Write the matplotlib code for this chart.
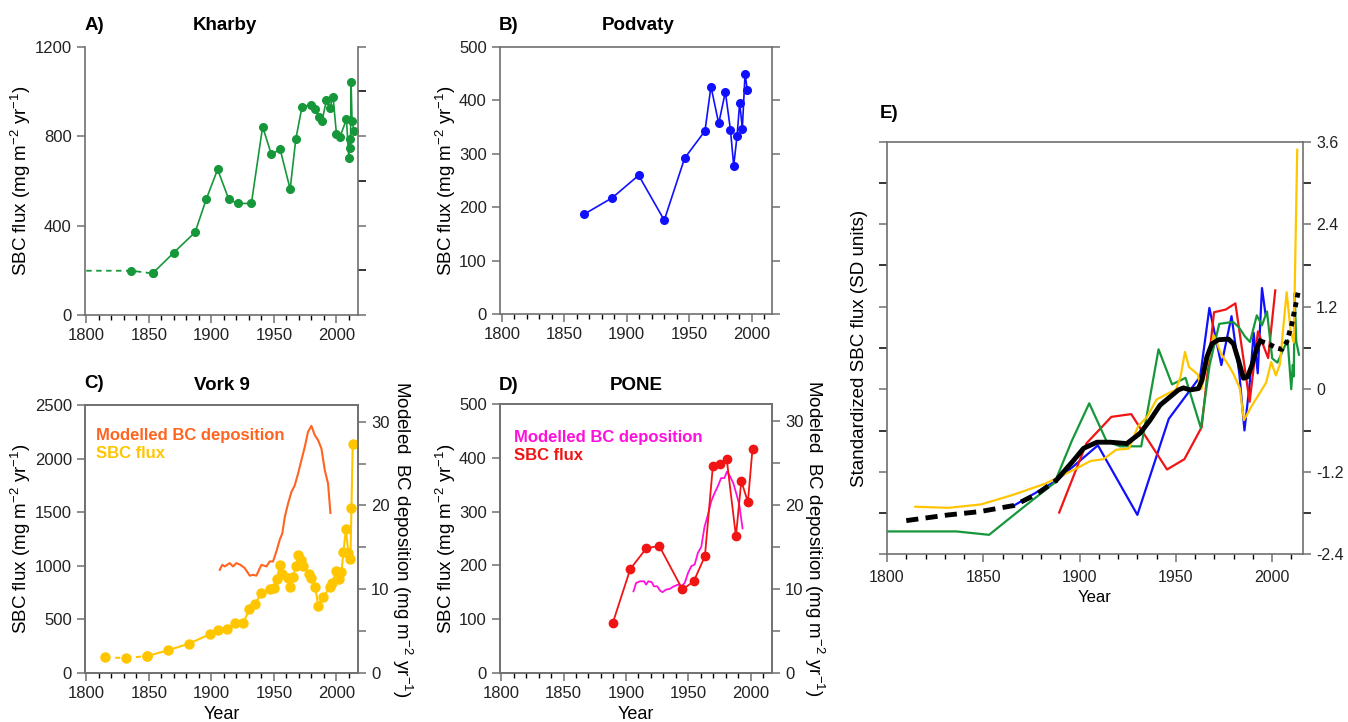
import numpy as np
import matplotlib.pyplot as plt
from matplotlib.ticker import MultipleLocator

plt.rcParams['font.family'] = ['Liberation Sans', 'DejaVu Sans']
plt.rcParams['mathtext.fontset'] = 'custom'
plt.rcParams['mathtext.rm'] = 'Liberation Sans'
plt.rcParams['mathtext.it'] = 'Liberation Sans:italic'
plt.rcParams['mathtext.bf'] = 'Liberation Sans:bold'

# A) Kharby  (first value = extension back to 1800, drawn dashed)
kharby_years = [1800, 1836, 1853, 1870, 1887, 1896, 1905, 1914, 1921, 1932, 1941, 1948, 1955,
                1963, 1967.5, 1972.5, 1979.7, 1982.7, 1985.9, 1988.5, 1992, 1994.7, 1997.3,
                2000, 2002.7, 2008, 2009.9, 2010.7, 2011.2, 2011.7, 2012.5, 2013.9]
kharby_flux = [198, 198, 186, 279, 370, 519, 651, 517, 499, 499, 842, 718, 741,
               563, 786, 932, 939, 920, 887, 868, 962, 927, 976,
               810, 795, 875, 701, 787, 746, 1041, 869, 823]

# B) Podvaty
podvaty_years = [1865.7, 1888.4, 1909.5, 1930, 1946.3, 1962.6, 1967.4, 1973.6, 1978.9,
                 1983, 1985.6, 1988.3, 1990.4, 1992.5, 1994.7, 1996.5]
podvaty_flux = [187, 218, 260, 176, 292, 343, 426, 357, 416, 345, 278, 334, 396, 347, 450, 419]

# C) Vork 9
vork_years = [1814.7, 1832, 1848.8, 1865, 1882, 1898.7, 1905.6, 1912.3, 1919, 1925.6, 1930.4,
              1935, 1940, 1946.5, 1950, 1952.5, 1954.7, 1956.8, 1961.3, 1963.2, 1965.3, 1967.5,
              1969.6, 1971.5, 1973.3, 1977.9, 1980, 1983.2, 1985.3, 1989.3, 1994.7, 1996.8,
              1999.5, 2001.9, 2004, 2005.6, 2007.5, 2009.6, 2011.2, 2012, 2013]
vork_flux = [143, 137, 156, 208, 271, 358, 398, 408, 461, 467, 592,
             644, 741, 778, 795, 872, 1006, 922, 881, 797, 897, 996,
             1099, 1052, 999, 922, 881, 803, 626, 704, 797, 834,
             950, 875, 937, 1124, 1339, 1121, 1059, 1535, 2133]
vork_model_years = [1906.7, 1908.8, 1910.7, 1914.7, 1917.3, 1920, 1923.2, 1926.7, 1930.7, 1933.3,
                    1936, 1940, 1944, 1946.7, 1949.3, 1952, 1954.7, 1956.8, 1958.7, 1961.3, 1964,
                    1966.7, 1969.3, 1972, 1974.7, 1977.3, 1980, 1982.7, 1985.3, 1988, 1990.7,
                    1993.3, 1995.2]
vork_model = [12.3, 12.9, 12.7, 13.1, 12.7, 13.1, 12.9, 12.5, 11.6, 11.7,
              11.6, 12.9, 12.7, 13.3, 13.3, 14.5, 15.9, 16.7, 18.6, 20.2, 21.6,
              22.4, 23.8, 25.4, 27.0, 28.8, 29.5, 28.4, 27.8, 26.8, 24.2,
              22.6, 19.1]

# D) PONE
pone_years = [1889.4, 1903.5, 1916.5, 1926.8, 1945.4, 1954.4, 1963.4, 1969.8, 1975.9,
              1980.9, 1988.3, 1992.6, 1997.9, 2001.6]
pone_flux = [92, 193, 232, 236, 155, 170, 217, 385, 389, 398, 254, 357, 318, 417]
pone_model_years = [1906.1, 1908.2, 1911.4, 1914.6, 1916.2, 1918, 1920.7, 1922.5, 1925.2, 1927.3,
                    1929.4, 1932.1, 1935.3, 1938.5, 1941.9, 1944.6, 1947.2, 1949.9, 1952.5,
                    1955.2, 1957.8, 1960.5, 1963.1, 1965.8, 1968.4, 1971.1, 1973.7, 1976.4,
                    1979, 1981.2, 1983.6, 1986.2, 1988.9, 1991, 1993.6]
pone_model = [9.7, 10.7, 10.9, 10.9, 10.5, 10.9, 10.8, 10.3, 10.3, 9.8,
              9.6, 9.9, 10.0, 10.3, 10.5, 10.3, 10.7, 11.9, 12.7,
              12.9, 14.3, 15.0, 17.4, 18.8, 20.4, 21.4, 22.2, 23.2,
              23.2, 24.0, 23.4, 22.6, 21.2, 20.0, 17.2]

# E) composite (black)
comp_years = [1810, 1831, 1848, 1866, 1878, 1888, 1897, 1902, 1909, 1916, 1924.5, 1931.4,
              1936.6, 1941.8, 1947, 1951.3, 1953.9, 1957.4, 1961.7, 1963.5, 1966.1, 1968.7,
              1972.1, 1977.3, 1979.9, 1982.5, 1985.1, 1987.2, 1989.5, 1992.1, 1993.8,
              1998.1, 2002.4, 2005, 2007.6, 2010.2, 2012, 2013.7]
comp_z = [-1.91, -1.83, -1.78, -1.69, -1.52, -1.32, -1.03, -0.86, -0.77, -0.77, -0.79, -0.64,
          -0.45, -0.23, -0.11, -0.01, 0.02, -0.01, 0.01, 0.13, 0.47, 0.66,
          0.72, 0.73, 0.66, 0.42, 0.16, 0.18, 0.35, 0.61, 0.70,
          0.66, 0.60, 0.58, 0.69, 0.95, 1.20, 1.44]
comp_solid_from = 1888
comp_dotted_from = 1993.8

GREEN = '#16973a'
BLUE = '#1010ff'
GOLD = '#ffc600'
ORANGE = '#ff6420'
MAGENTA = '#ff10dc'
RED = '#f01414'
SPINE = '#707070'
W, H = 1348, 722

flux_label = r'SBC flux (mg m$^{-2}$ yr$^{-1}$)'
model_label = r'Modeled  BC deposition (mg m$^{-2}$ yr$^{-1}$)'


def px(x0, y_top, x1, y_bot):
    return [x0 / W, 1 - y_bot / H, (x1 - x0) / W, (y_bot - y_top) / H]


def style(ax, top=True, size=12):
    for s in ax.spines.values():
        s.set_color(SPINE)
        s.set_linewidth(1.2)
    ax.spines['top'].set_visible(top)
    ax.tick_params(direction='out', color=SPINE, labelsize=size, length=6, width=1.1,
                   labelcolor='#222222')
    ax.tick_params(axis='x', which='minor', length=3.5, width=1.0)
    ax.xaxis.set_major_locator(MultipleLocator(50))
    ax.xaxis.set_minor_locator(MultipleLocator(10))


def zscore(v):
    v = np.asarray(v, dtype=float)
    return (v - v.mean()) / v.std()


fig = plt.figure(figsize=(W / 100, H / 100), dpi=100)

# ---- A) Kharby
axA = fig.add_axes(px(85, 46.7, 357.7, 315))
style(axA, top=False)
axA.plot(kharby_years[:3], kharby_flux[:3], color=GREEN, lw=1.3, ls=(0, (3, 2.5)))
axA.plot(kharby_years[1:3], kharby_flux[1:3], 'o', color=GREEN, ms=5.5)
axA.plot(kharby_years[2:], kharby_flux[2:], '-o', color=GREEN, lw=1.2, ms=5.5)
axA.set_xlim(1799, 2017)
axA.set_ylim(0, 1200)
axA.yaxis.set_major_locator(MultipleLocator(400))
axA.yaxis.set_minor_locator(MultipleLocator(200))
axA.tick_params(axis='y', which='both', right=True)
axA.tick_params(axis='y', which='minor', left=False, length=6, width=1.1)
axA.set_ylabel(flux_label, fontsize=13.5, labelpad=1)

# ---- B) Podvaty
axB = fig.add_axes(px(500, 47, 772.3, 314.3))
style(axB)
axB.plot(podvaty_years, podvaty_flux, '-o', color=BLUE, lw=1.2, ms=5.5)
axB.set_xlim(1798.5, 2016.5)
axB.set_ylim(0, 500)
axB.yaxis.set_major_locator(MultipleLocator(100))
axB.tick_params(axis='y', right=True)
axB.set_ylabel(flux_label, fontsize=13.5, labelpad=1)

# ---- C) Vork 9
axC = fig.add_axes(px(85, 405, 357.7, 672.7))
style(axC)
axC.plot(vork_years[:3], vork_flux[:3], color=GOLD, lw=1.5, ls=(0, (2.5, 2.5)))
axC.plot(vork_years[:3], vork_flux[:3], 'o', color=GOLD, ms=6.5)
axC.plot(vork_years[2:], vork_flux[2:], '-o', color=GOLD, lw=1.5, ms=6.5, zorder=3)
axC.set_xlim(1799, 2017)
axC.set_ylim(0, 2500)
axC.yaxis.set_major_locator(MultipleLocator(500))
axC.set_ylabel(flux_label, fontsize=13.5, labelpad=1)
axC.set_xlabel('Year', fontsize=13)
axC2 = axC.twinx()
style(axC2)
axC2.plot(vork_model_years, vork_model, color=ORANGE, lw=1.5)
axC2.set_ylim(0, 32)
axC2.set_yticks(range(0, 31, 5))
axC2.set_yticklabels(['0', '', '10', '', '20', '', '30'])
axC2.set_ylabel(model_label, fontsize=13.5, rotation=270, labelpad=18)
axC.text(0.04, 0.885, 'Modelled BC deposition', transform=axC.transAxes, color=ORANGE,
         fontsize=12, fontweight='bold', va='center')
axC.text(0.04, 0.82, 'SBC flux', transform=axC.transAxes, color=GOLD,
         fontsize=12, fontweight='bold', va='center')

# ---- D) PONE
axD = fig.add_axes(px(500, 404.3, 771.7, 672.7))
style(axD)
axD.plot(pone_years, pone_flux, '-o', color=RED, lw=1.3, ms=6, zorder=3)
axD.set_xlim(1799, 2017)
axD.set_ylim(0, 500)
axD.yaxis.set_major_locator(MultipleLocator(100))
axD.set_ylabel(flux_label, fontsize=13.5, labelpad=1)
axD.set_xlabel('Year', fontsize=13)
axD2 = axD.twinx()
style(axD2)
axD2.plot(pone_model_years, pone_model, color=MAGENTA, lw=1.3)
axD2.set_ylim(0, 32)
axD2.set_yticks(range(0, 31, 5))
axD2.set_yticklabels(['0', '', '10', '', '20', '', '30'])
axD2.set_ylabel(model_label, fontsize=13.5, rotation=270, labelpad=16)
axD.set_zorder(axD2.get_zorder() + 1)
axD.patch.set_visible(False)
axD.text(0.05, 0.875, 'Modelled BC deposition', transform=axD.transAxes, color=MAGENTA,
         fontsize=12, fontweight='bold', va='center')
axD.text(0.05, 0.81, 'SBC flux', transform=axD.transAxes, color=RED,
         fontsize=12, fontweight='bold', va='center')

# ---- E) standardized records
axE = fig.add_axes(px(887, 141.7, 1303, 554.3))
style(axE, size=11.5)
axE.plot(podvaty_years, zscore(podvaty_flux), color=BLUE, lw=1.6)
axE.plot(pone_years, zscore(pone_flux), color=RED, lw=1.6)
axE.plot(kharby_years, zscore(kharby_flux), color=GREEN, lw=1.6)
axE.plot(vork_years, zscore(vork_flux), color=GOLD, lw=1.6)
cy = np.array(comp_years)
cz = np.array(comp_z)
m1 = cy <= comp_solid_from
m2 = (cy >= comp_solid_from) & (cy <= comp_dotted_from)
m3 = cy >= comp_dotted_from
axE.plot(cy[m1], cz[m1], color='black', lw=3.5, ls=(0, (2.5, 1.5)), zorder=5)
axE.plot(cy[m2], cz[m2], color='black', lw=3.5, zorder=5)
axE.plot(cy[m3], cz[m3], color='black', lw=3.5, ls=(0, (1, 1)), zorder=5)
axE.set_xlim(1800, 2016)
axE.set_ylim(-2.4, 3.6)
axE.set_yticks([-2.4, -1.2, 0, 1.2, 2.4, 3.6])
axE.set_yticklabels(['-2.4', '-1.2', '0', '1.2', '2.4', '3.6'])
axE.yaxis.set_minor_locator(MultipleLocator(0.6))
axE.tick_params(axis='y', which='both', left=True, right=True, labelleft=False,
                labelright=True, length=6, width=1.1)
axE.tick_params(axis='x', which='major', pad=5)
axE.set_ylabel('Standardized SBC flux (SD units)', fontsize=13.5, labelpad=8)
axE.set_xlabel('Year', fontsize=12)

# panel letters and titles
for letter, x, y in [('A)', 85, 25), ('B)', 499, 26), ('C)', 84, 383),
                     ('D)', 499, 385), ('E)', 880, 113)]:
    fig.text(x / W, 1 - y / H, letter, fontsize=13.5, fontweight='bold', ha='left', va='center')
for title, x, y in [('Kharby', 225, 25), ('Podvaty', 638, 26), ('Vork 9', 222, 386),
                    ('PONE', 636, 386)]:
    fig.text(x / W, 1 - y / H, title, fontsize=13.5, fontweight='bold', ha='center', va='center')

fig.savefig('out.png', dpi=100)
